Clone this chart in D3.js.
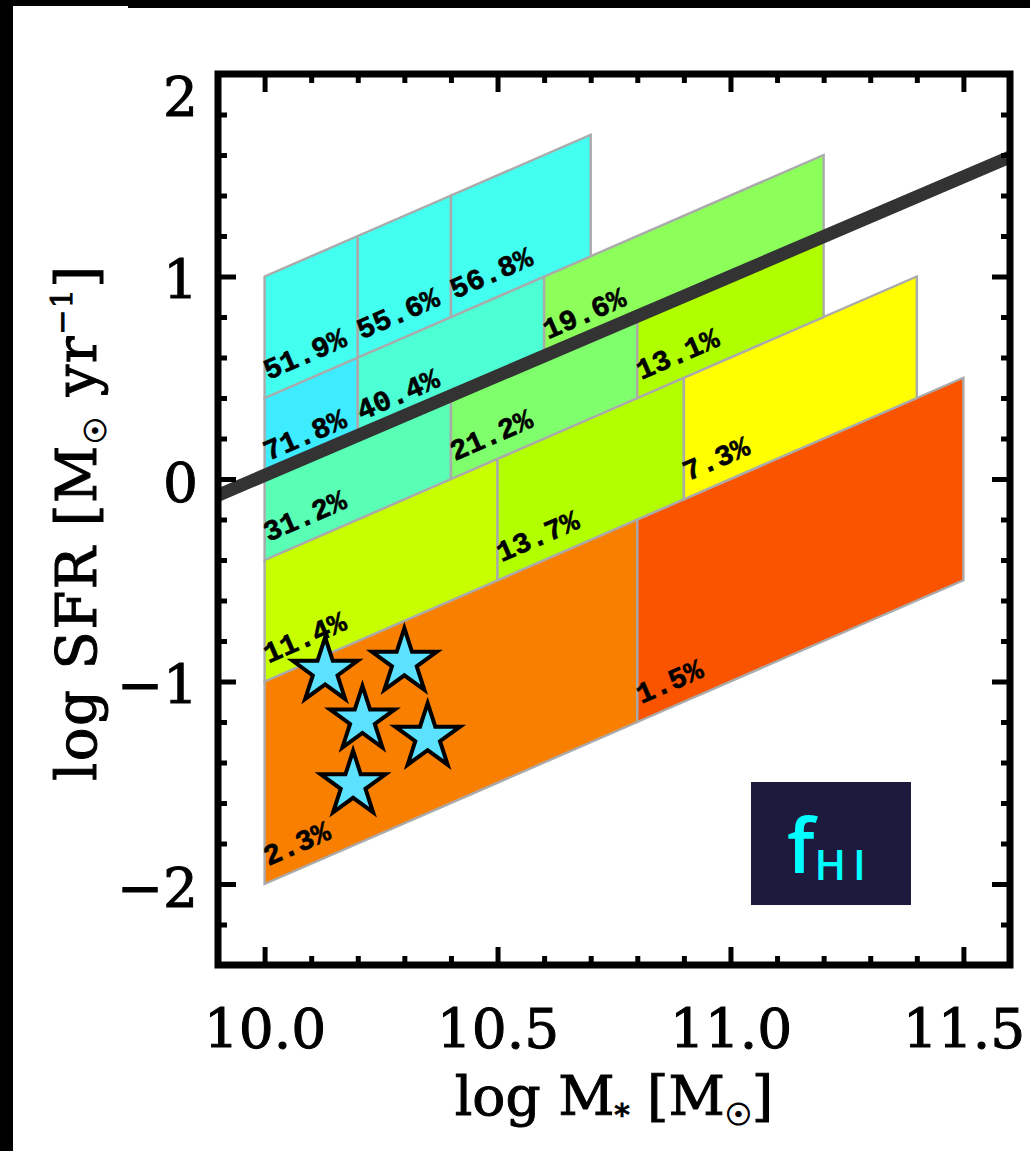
<!DOCTYPE html>
<html><head><meta charset="utf-8">
<script src="https://cdn.jsdelivr.net/npm/d3@7"></script>
<style>body{margin:0;background:#fff;} svg{display:block}</style>
</head><body>
<svg id="chart" width="1030" height="1151"></svg>
<script>
// ---------------- data ----------------
const xMajorTicks = [10.0, 10.5, 11.0, 11.5];
const xTickLabels = ["10.0", "10.5", "11.0", "11.5"];
const yMajorTicks = [-2, -1, 0, 1, 2];
const yTickLabels = ["\u22122", "\u22121", "0", "1", "2"];

// cells: log M* range and log sSFR range (log SFR = log M* + sSFR)
const cellMassLo = [10.0, 10.8, 10.0, 10.5, 10.9, 10.0, 10.4, 10.8, 10.0, 10.2, 10.6, 10.0, 10.2, 10.4];
const cellMassHi = [10.8, 11.5, 10.5, 10.9, 11.4, 10.4, 10.8, 11.2, 10.2, 10.6, 11.2, 10.2, 10.4, 10.7];
const cellSsfrLo = [-12, -12, -11, -11, -11, -10.4, -10.4, -10.4, -10, -10, -10, -9.6, -9.6, -9.6];
const cellSsfrHi = [-11, -11, -10.4, -10.4, -10.4, -10, -10, -10, -9.6, -9.6, -9.6, -9, -9, -9];
const cellFHI = ["2.3%", "1.5%", "11.4%", "13.7%", "7.3%", "31.2%", "21.2%", "13.1%", "71.8%", "40.4%", "19.6%", "51.9%", "55.6%", "56.8%"];
const cellPalette = ["#f97f00", "#fa5400", "#c8ff00", "#b2ff00", "#ffff00", "#58ffb4", "#80ff6c", "#b0ff00", "#3eecff", "#4cffd4", "#8cff5a", "#42fff0", "#42fff0", "#42fff0"];

// main sequence line
const msMass = [9.9, 11.6];
const msLogSFR = [-0.08, 1.59];

// stars
const starMass = [10.13, 10.30, 10.21, 10.35, 10.19];
const starLogSFR = [-0.95, -0.905, -1.19, -1.275, -1.51];

const xTitle = "log M";
const yTitle = "log SFR [M";

// ---------------- layout ----------------
const W = 1030, H = 1151;
const P = {left: 218, right: 1010, top: 74, bottom: 965};
const x = d3.scaleLinear().domain([9.9, 11.6]).range([P.left, P.right]);
const y = d3.scaleLinear().domain([-2.4, 2.0]).range([P.bottom, P.top]);

const svg = d3.select("#chart");
svg.append("rect").attr("width", W).attr("height", H).attr("fill", "#fff");

// black borders of the picture
svg.append("rect").attr("x", 0).attr("y", 0).attr("width", 128).attr("height", 6).attr("fill", "#000");
svg.append("rect").attr("x", 128).attr("y", 0).attr("width", W - 128).attr("height", 8).attr("fill", "#000");
svg.append("rect").attr("x", 0).attr("y", 0).attr("width", 13).attr("height", H).attr("fill", "#000");

svg.append("clipPath").attr("id", "plotclip").append("rect")
  .attr("x", P.left).attr("y", P.top).attr("width", P.right - P.left).attr("height", P.bottom - P.top);

const plot = svg.append("g").attr("clip-path", "url(#plotclip)");

const cells = cellFHI.map((f, i) => ({
  m0: cellMassLo[i], m1: cellMassHi[i], s0: cellSsfrLo[i], s1: cellSsfrHi[i], f, c: cellPalette[i]
}));

plot.selectAll("path.cell").data(cells).join("path")
  .attr("class", "cell")
  .attr("d", d => {
    const pts = [[d.m0, d.m0 + d.s0], [d.m1, d.m1 + d.s0], [d.m1, d.m1 + d.s1], [d.m0, d.m0 + d.s1]];
    return "M" + pts.map(p => x(p[0]) + "," + y(p[1])).join("L") + "Z";
  })
  .attr("fill", d => d.c)
  .attr("stroke", "#aaaaaa")
  .attr("stroke-width", 2.4)
  .attr("stroke-linejoin", "miter");

const angle = Math.atan2(y(1) - y(0), x(11) - x(10)) * 180 / Math.PI;

plot.selectAll("text.flab").data(cells).join("text")
  .attr("class", "flab")
  .attr("transform", d => `translate(${x(d.m0) + 4},${y(d.m0 + d.s0) - 18}) rotate(${angle})`)
  .attr("font-family", "'Liberation Mono', 'DejaVu Sans Mono', monospace")
  .attr("font-weight", "bold")
  .attr("font-size", 29)
  .attr("fill", "#000")
  .attr("stroke", "#000")
  .attr("stroke-width", 0.6)
  .text(d => d.f);

// main-sequence line
plot.append("path")
  .datum(msMass.map((m, i) => [m, msLogSFR[i]]))
  .attr("d", d3.line().x(d => x(d[0])).y(d => y(d[1])))
  .attr("stroke", "#333333")
  .attr("stroke-width", 13)
  .attr("fill", "none");

// stars
const star = d3.symbol().type(d3.symbolStar).size(1300);
plot.selectAll("path.star").data(starMass.map((m, i) => [m, starLogSFR[i]])).join("path")
  .attr("class", "star")
  .attr("transform", d => `translate(${x(d[0])},${y(d[1])})`)
  .attr("d", star)
  .attr("fill", "#5ce1ff")
  .attr("stroke", "#000")
  .attr("stroke-width", 4)
  .attr("stroke-linejoin", "miter");

// ---------------- axes ----------------
const xMinor = d3.range(99, 117).map(v => v / 10).filter(v => Math.abs(v * 2 - Math.round(v * 2)) > 1e-6);
const yMinor = d3.range(-12, 11).map(v => v / 5).filter(v => Math.abs(v - Math.round(v)) > 1e-6);
const tickFont = "'DejaVu Serif', serif";

function styleAxis(g) {
  g.select(".domain").remove();
  g.selectAll(".tick line").attr("stroke", "#000").attr("stroke-width", 5);
}
function heavy(sel) {
  sel.attr("fill", "#000").attr("stroke", "#000").attr("stroke-width", 1);
}

const MAJ = 18, MIN = 9;
// bottom
const gb = svg.append("g").attr("transform", `translate(0,${P.bottom})`)
  .call(d3.axisBottom(x).tickValues(xMajorTicks).tickSize(-MAJ).tickSizeOuter(0)
    .tickFormat((d, i) => xTickLabels[i]));
styleAxis(gb);
gb.selectAll("text").attr("y", 83).attr("dy", 0)
  .attr("font-family", tickFont).attr("font-size", 55).call(heavy);
svg.append("g").attr("transform", `translate(0,${P.bottom})`)
  .call(d3.axisBottom(x).tickValues(xMinor).tickSize(-MIN).tickSizeOuter(0).tickFormat(""))
  .call(styleAxis);
// top
svg.append("g").attr("transform", `translate(0,${P.top})`)
  .call(d3.axisTop(x).tickValues(xMajorTicks).tickSize(-MAJ).tickSizeOuter(0).tickFormat(""))
  .call(styleAxis);
svg.append("g").attr("transform", `translate(0,${P.top})`)
  .call(d3.axisTop(x).tickValues(xMinor).tickSize(-MIN).tickSizeOuter(0).tickFormat(""))
  .call(styleAxis);
// left
const gl = svg.append("g").attr("transform", `translate(${P.left},0)`)
  .call(d3.axisLeft(y).tickValues(yMajorTicks).tickSize(-MAJ).tickSizeOuter(0)
    .tickFormat((d, i) => yTickLabels[i]));
styleAxis(gl);
gl.selectAll(".tick").each(function(d) {
  const t = d3.select(this).select("text");
  const shift = Math.max(0, P.top + 19 - y(d));
  t.attr("x", -20).attr("dy", 0).attr("y", 22 + shift)
    .attr("font-family", tickFont).attr("font-size", 55).call(heavy);
});
svg.append("g").attr("transform", `translate(${P.left},0)`)
  .call(d3.axisLeft(y).tickValues(yMinor).tickSize(-MIN).tickSizeOuter(0).tickFormat(""))
  .call(styleAxis);
// right
svg.append("g").attr("transform", `translate(${P.right},0)`)
  .call(d3.axisRight(y).tickValues(yMajorTicks).tickSize(-MAJ).tickSizeOuter(0).tickFormat(""))
  .call(styleAxis);
svg.append("g").attr("transform", `translate(${P.right},0)`)
  .call(d3.axisRight(y).tickValues(yMinor).tickSize(-MIN).tickSizeOuter(0).tickFormat(""))
  .call(styleAxis);

// frame
svg.append("rect")
  .attr("x", P.left).attr("y", P.top)
  .attr("width", P.right - P.left).attr("height", P.bottom - P.top)
  .attr("fill", "none").attr("stroke", "#000").attr("stroke-width", 7);

// ---------------- axis titles ----------------
const xt = svg.append("text")
  .attr("x", (P.left + P.right) / 2).attr("y", 1115)
  .attr("text-anchor", "middle")
  .attr("font-family", tickFont).attr("font-size", 55).call(heavy);
xt.append("tspan").text(xTitle);
xt.append("tspan").attr("font-size", 30).attr("dy", 10).text("*");
xt.append("tspan").attr("dy", -10).text(" [M");
xt.append("tspan").attr("font-size", 30).attr("dy", 10).text("\u2609");
xt.append("tspan").attr("dy", -10).text("]");

const yt = svg.append("text")
  .attr("transform", `translate(96,${(P.top + P.bottom) / 2 + 3}) rotate(-90)`)
  .attr("text-anchor", "middle")
  .attr("font-family", tickFont).attr("font-size", 56).attr("letter-spacing", 1.5).call(heavy);
yt.append("tspan").text(yTitle);
yt.append("tspan").attr("font-size", 30).attr("dy", 10).text("\u2609");
yt.append("tspan").attr("dy", -10).text(" yr");
yt.append("tspan").attr("font-size", 30).attr("dy", -24).text("\u22121");
yt.append("tspan").attr("dy", 24).text("]");

// ---------------- fHI badge ----------------
const bx = 751, by = 782;
svg.append("rect").attr("x", bx).attr("y", by).attr("width", 160).attr("height", 123).attr("fill", "#1e1a3e");
const bt = svg.append("text").attr("x", bx + 36).attr("y", by + 91)
  .attr("font-family", "'Open Sans', sans-serif").attr("font-weight", 600).attr("fill", "#00ffff");
bt.append("tspan").attr("font-size", 76).text("f");
bt.append("tspan").attr("font-size", 42).attr("dy", 7).attr("dx", 0).attr("letter-spacing", 7).text("HI");
</script>
</body></html>
